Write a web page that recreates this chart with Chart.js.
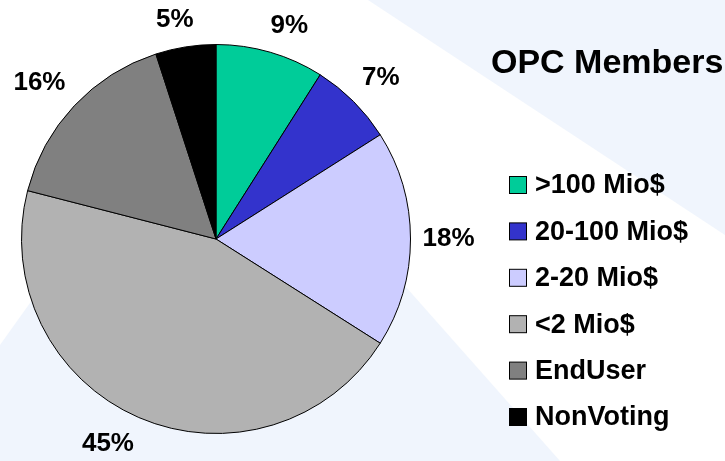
<!DOCTYPE html>
<html>
<head>
<meta charset="utf-8">
<script src="https://cdn.jsdelivr.net/npm/chart.js@4.4.1/dist/chart.umd.min.js"></script>
<style>
    html, body { margin: 0; padding: 0; background: #ffffff; }
    #wrap { width: 725px; height: 461px; position: relative; }
</style>
</head>
<body>
<div id="wrap"><canvas id="opcChart"></canvas></div>
<script>
// Membership split
const categories = ['>100 Mio$', '20-100 Mio$', '2-20 Mio$', '<2 Mio$', 'EndUser', 'NonVoting'];
const shares = [9, 7, 18, 45, 16, 5];
const sliceColors = ['#00CC99', '#3333CC', '#CCCCFF', '#B2B2B2', '#808080', '#000000'];
const legendTitle = 'OPC Members';

const FONT = '"Liberation Sans", Arial, sans-serif';

// faint slide background with diagonal bands
const backdrop = {
    id: 'backdrop',
    beforeDraw(chart) {
        const ctx = chart.ctx;
        ctx.save();
        ctx.fillStyle = '#ffffff';
        ctx.fillRect(0, 0, chart.width, chart.height);
        ctx.fillStyle = '#F0F5FD';
        ctx.beginPath();
        ctx.moveTo(368, 0);
        ctx.lineTo(725, 0);
        ctx.lineTo(725, 235);
        ctx.closePath();
        ctx.fill();
        ctx.beginPath();
        ctx.moveTo(0, 345);
        ctx.lineTo(204, 59);
        ctx.lineTo(560, 461);
        ctx.lineTo(0, 461);
        ctx.closePath();
        ctx.fill();
        ctx.restore();
    }
};

// percentage labels outside each slice, the text box pushed off the rim
const sliceLabels = {
    id: 'sliceLabels',
    afterDatasetsDraw(chart) {
        const ctx = chart.ctx;
        const meta = chart.getDatasetMeta(0);
        const clamp = v => Math.max(-1, Math.min(1, v));
        ctx.save();
        ctx.font = 'bold 26px ' + FONT;
        ctx.fillStyle = '#000000';
        ctx.textAlign = 'center';
        ctx.textBaseline = 'middle';
        meta.data.forEach((arc, i) => {
            const p = arc.getProps(['x', 'y', 'startAngle', 'endAngle', 'outerRadius'], true);
            const mid = (p.startAngle + p.endAngle) / 2;
            const dx = Math.cos(mid), dy = Math.sin(mid);
            const r = p.outerRadius + 12;
            const text = shares[i] + '%';
            const halfW = ctx.measureText(text).width / 2;
            const halfH = 15;
            const x = p.x + dx * r + halfW * clamp(dx * 3);
            const y = p.y + dy * r + halfH * clamp(dy * 3);
            ctx.fillText(text, x, y);
        });
        ctx.restore();
    }
};

// legend on the right with its title far above the items
const sideLegend = {
    id: 'sideLegend',
    afterDraw(chart) {
        const ctx = chart.ctx;
        const colors = chart.data.datasets[0].backgroundColor;
        ctx.save();
        ctx.fillStyle = '#000000';
        ctx.textAlign = 'left';
        ctx.textBaseline = 'middle';
        ctx.font = 'bold 34px ' + FONT;
        ctx.fillText(legendTitle, 491, 64);
        ctx.font = 'bold 27px ' + FONT;
        chart.data.labels.forEach((label, i) => {
            const cy = 185 + i * 46.4;
            ctx.fillStyle = colors[i];
            ctx.fillRect(509.5, cy - 8.5, 17, 17);
            ctx.strokeStyle = '#000000';
            ctx.lineWidth = 1;
            ctx.strokeRect(509.5, cy - 8.5, 17, 17);
            ctx.fillStyle = '#000000';
            ctx.fillText(label, 535, cy + 1);
        });
        ctx.restore();
    }
};

new Chart(document.getElementById('opcChart'), {
    type: 'pie',
    data: {
        labels: categories,
        datasets: [{
            data: shares,
            backgroundColor: sliceColors,
            borderColor: '#000000',
            borderWidth: 1
        }]
    },
    options: {
        responsive: true,
        maintainAspectRatio: false,
        animation: false,
        layout: {
            padding: { left: 21, right: 314, top: 44, bottom: 27 }
        },
        plugins: {
            legend: { display: false },
            tooltip: { enabled: false }
        }
    },
    plugins: [backdrop, sliceLabels, sideLegend]
});
</script>
</body>
</html>
